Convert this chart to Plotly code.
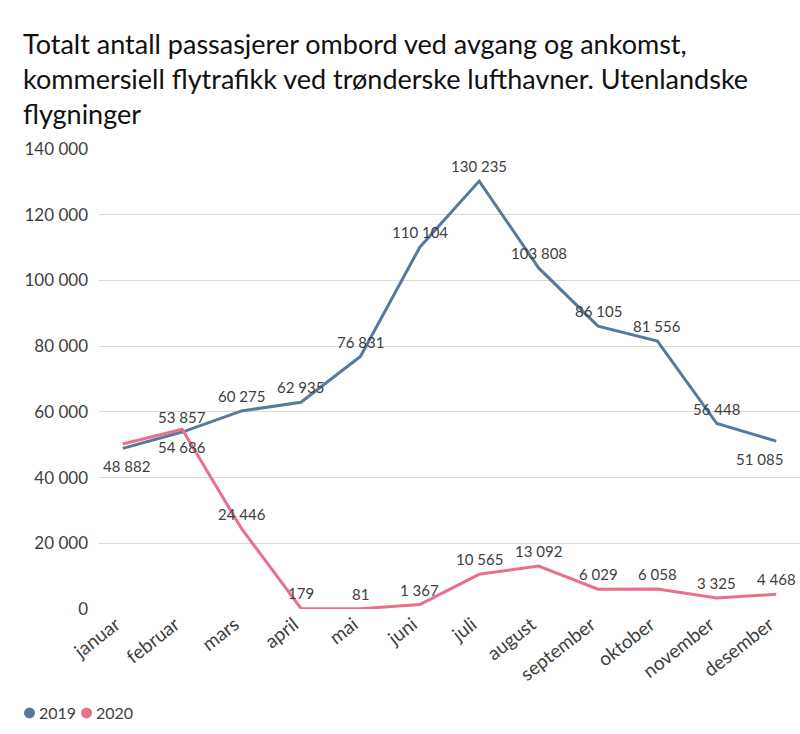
import plotly.graph_objects as go

# data
months = ['januar', 'februar', 'mars', 'april', 'mai', 'juni', 'juli',
          'august', 'september', 'oktober', 'november', 'desember']
pax_2019 = [48882, 53857, 60275, 62935, 76831, 110104, 130235,
            103808, 86105, 81556, 56448, 51085]
pax_2020 = [50200, 54686, 24446, 179, 81, 1367, 10565,
            13092, 6029, 6058, 3325, 4468]
show_label_2020 = [False] + [True] * 11
y_ticks = [0, 20000, 40000, 60000, 80000, 100000, 120000, 140000]

colors = {'2019': '#58799B', '2020': '#EA6F8B'}
FONT = 'Lato'
LABEL_COLOR = '#404040'


def fmt(v):
    # norsk tusenskille
    return f'{v:,}'.replace(',', ' ')


# etikettplassering (over = +15, under = -18), med litt sideforskyvning
above, below = 15, -18
shift_2019 = [(4, below), (0, above)] + [(0, above)] * 9 + [(-17, below)]
shift_2020 = [(0, above), (0, below)] + [(0, above)] * 10

fig = go.Figure()

for year, vals in [('2019', pax_2019), ('2020', pax_2020)]:
    fig.add_trace(go.Scatter(
        x=months, y=vals, mode='lines', name=year,
        line=dict(color=colors[year], width=3),
        showlegend=False, hoverinfo='x+y',
    ))

annotations = []
for m, v, (dx, dy) in zip(months, pax_2019, shift_2019):
    annotations.append(dict(x=m, y=v, text=fmt(v), showarrow=False,
                            xshift=dx, yshift=dy,
                            font=dict(size=15, color=LABEL_COLOR)))
for m, v, (dx, dy), s in zip(months, pax_2020, shift_2020, show_label_2020):
    if s:
        annotations.append(dict(x=m, y=v, text=fmt(v), showarrow=False,
                                xshift=dx, yshift=dy,
                                font=dict(size=15, color=LABEL_COLOR)))

# tittel
annotations.append(dict(
    xref='paper', yref='paper', x=-0.111, y=1.27, xanchor='left', yanchor='top',
    align='left', showarrow=False,
    text='Totalt antall passasjerer ombord ved avgang og ankomst,<br>'
         'kommersiell flytrafikk ved trønderske lufthavner. Utenlandske<br>'
         'flygninger',
    font=dict(size=27, color='#111111'),
))

# forklaring med runde symboler (sirkel i piksler + tekst)
legend_y = -0.226
legend_x = {'2019': (-0.0991, -0.0884), '2020': (-0.0178, -0.0071)}
shapes = []
for year, (bx, tx) in legend_x.items():
    shapes.append(dict(
        type='circle', xref='paper', yref='paper',
        xsizemode='pixel', ysizemode='pixel', xanchor=bx, yanchor=legend_y,
        x0=-5.5, x1=5.5, y0=-5.5, y1=5.5,
        fillcolor=colors[year], line=dict(width=0),
    ))
    annotations.append(dict(
        xref='paper', yref='paper', x=tx, y=legend_y, xanchor='left', yanchor='middle',
        showarrow=False, text=year, font=dict(size=16, color=LABEL_COLOR),
    ))

fig.update_layout(
    width=800, height=734,
    margin=dict(l=99, r=0, t=149, b=125),
    plot_bgcolor='white', paper_bgcolor='white',
    font=dict(family=FONT, color=LABEL_COLOR),
    showlegend=False,
    annotations=annotations,
    shapes=shapes,
)

fig.update_xaxes(
    range=[-0.4, 11.4], tickangle=-38, showgrid=False, showline=False,
    tickfont=dict(size=19, color=LABEL_COLOR), ticks='', ticklabelshift=-7,
)
fig.update_yaxes(
    range=[0, 140000], tickvals=y_ticks, ticktext=[fmt(v) for v in y_ticks],
    showgrid=True, gridcolor='#D9D9D9', gridwidth=1, zeroline=False,
    tickfont=dict(size=17, color=LABEL_COLOR), ticks='', ticklabelstandoff=10,
)

fig.write_html('out.html', config={'displayModeBar': False},
               post_script="document.body.style.margin='0';")
